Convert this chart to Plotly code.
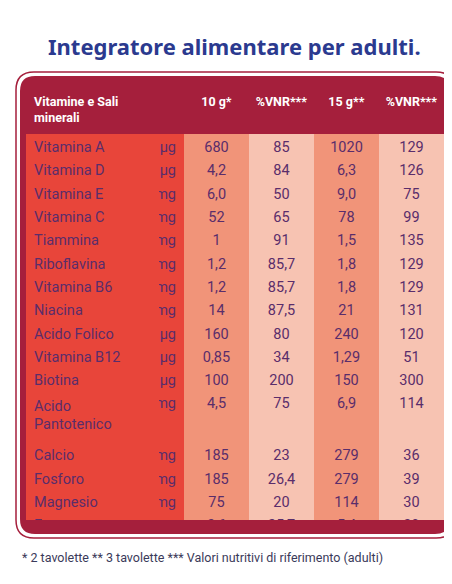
import plotly.graph_objects as go

names = ["Vitamina A","Vitamina D","Vitamina E","Vitamina C","Tiammina","Riboflavina","Vitamina B6","Niacina","Acido Folico","Vitamina B12","Biotina","Acido Pantotenico","Calcio","Fosforo","Magnesio","Ferro","Zinco"]
units = ["µg","µg","mg","mg","mg","mg","mg","mg","µg","µg","µg","mg","mg","mg","mg","mg","mg"]
dose10 = ["680","4,2","6,0","52","1","1,2","1,2","14","160","0,85","100","4,5","185","185","75","3,6","3,4"]
vnr10 = ["85","84","50","65","91","85,7","85,7","87,5","80","34","200","75","23","26,4","20","25,7","34"]
dose15 = ["1020","6,3","9,0","78","1,5","1,8","1,8","21","240","1,29","150","6,9","279","279","114","5,4","5,1"]
vnr15 = ["129","126","75","99","135","129","129","131","120","51","300","114","36","39","30","39","51"]
headers = ["Vitamine e Sali minerali","","10 g*","%VNR***","15 g**","%VNR***"]

W, H = 452, 584
DARK = "#a51f3c"
RED = "#e8453a"
MID = "#f19479"
LIGHT = "#f7c3b2"
TXT = "#5a2d6b"
FONT = "Roboto"

colfill = [RED, RED, MID, LIGHT, MID, LIGHT]
fig = go.Figure(go.Table(
    domain=dict(x=[18/W, 436/W], y=[1-512/H, 1-78/H]),
    columnwidth=[134, 24, 65, 65, 65, 65],
    header=dict(values=[f"<b>{h}</b>" for h in headers], fill_color=DARK, line_color=DARK,
                align=["left","right","center","center","center","center"],
                font=dict(family=FONT, size=12.5, color="white"), height=36),
    cells=dict(values=[names, units, dose10, vnr10, dose15, vnr15],
               fill_color=[[c]*len(names) for c in colfill],
               line=dict(color=[c for c in colfill], width=0),
               align=["left","right","center","center","center","center"],
               font=dict(family=FONT, size=14.5, color=TXT), height=23.3)
))

def rr(x0, y0, x1, y1, r):
    X = lambda v: v/W
    Y = lambda v: 1-v/H
    return (f"M {X(x0+r)},{Y(y0)} L {X(x1-r)},{Y(y0)} Q {X(x1)},{Y(y0)} {X(x1)},{Y(y0+r)} "
            f"L {X(x1)},{Y(y1-r)} Q {X(x1)},{Y(y1)} {X(x1-r)},{Y(y1)} L {X(x0+r)},{Y(y1)} "
            f"Q {X(x0)},{Y(y1)} {X(x0)},{Y(y1-r)} L {X(x0)},{Y(y0+r)} Q {X(x0)},{Y(y0)} {X(x0+r)},{Y(y0)} Z")

fig.update_layout(
    width=W, height=H, margin=dict(l=0, r=0, t=0, b=0),
    paper_bgcolor="white", plot_bgcolor="white",
    shapes=[
        dict(type="path", xref="paper", yref="paper", path=rr(8, 64, 446, 530, 18),
             line=dict(color=DARK, width=1.5), fillcolor="white", layer="below"),
        dict(type="path", xref="paper", yref="paper", path=rr(12, 68, 442, 526, 15),
             line=dict(width=0), fillcolor=DARK, layer="below"),
    ],
    annotations=[
        dict(text="<b>Integratore alimentare per adulti.</b>", x=0.5, y=1-38/H, xref="paper", yref="paper",
             yanchor="middle", showarrow=False, font=dict(family="Noto Sans", size=22, color="#2b3a8f")),
        dict(text="* 2 tavolette ** 3 tavolette *** Valori nutritivi di riferimento (adulti)", x=12/W, y=1-549/H,
             xref="paper", yref="paper", xanchor="left", yanchor="middle", showarrow=False,
             font=dict(family=FONT, size=12.5, color="#3a3a5a")),
    ],
)
fig.write_html("out.html")
